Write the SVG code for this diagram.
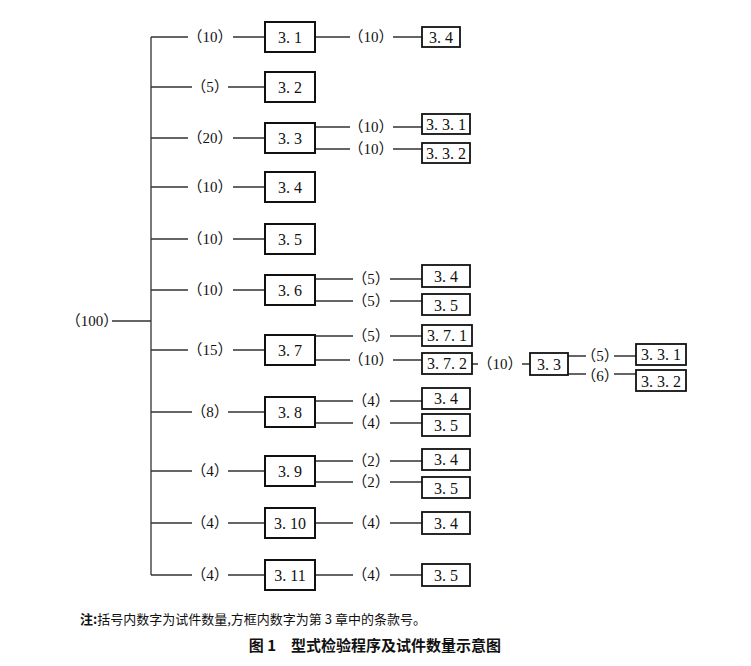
<svg xmlns="http://www.w3.org/2000/svg" width="751" height="666" viewBox="0 0 751 666">
<style>
.l{stroke:#333;stroke-width:1.3;fill:none}
.b{stroke:#111;stroke-width:2;fill:#fff}
.s{stroke:#111;stroke-width:1.8;fill:#fff}
text{font-family:"Liberation Serif","Noto Sans CJK SC",serif;font-size:16px;fill:#111;text-anchor:middle;dominant-baseline:central}
#labels text{font-family:"Liberation Serif","Noto Sans CJK SC",serif;font-size:15px}
.n{font-family:"Noto Sans CJK SC",sans-serif;font-size:13px;text-anchor:start}
.t{font-family:"Noto Sans CJK SC",sans-serif;font-size:15px;font-weight:bold}
</style>
<rect width="751" height="666" fill="#fff"/>
<g id="connectors">
<path class="l" d="M151 37V575M112 321H151"/>
<path class="l" d="M151 37H188M233 37H265M315 37H350M393 37H422"/>
<path class="l" d="M151 87H192M228 87H265"/>
<path class="l" d="M151 138H188M233 138H265M315 127H350M393 127H422M315 149H350M393 149H422"/>
<path class="l" d="M151 187H188M233 187H265"/>
<path class="l" d="M151 239H188M233 239H265"/>
<path class="l" d="M151 290H188M233 290H265M315 279H353M390 279H422M315 301H353M390 301H422"/>
<path class="l" d="M151 350H188M233 350H265M315 336H353M390 336H422M315 360H350M393 360H422"/>
<path class="l" d="M472 364H478M522 364H530M568 356H586M614 356H636M568 374H586M614 374H636"/>
<path class="l" d="M151 412H192M228 412H265M315 401H353M390 401H422M315 423H353M390 423H422"/>
<path class="l" d="M151 471H192M228 471H265M315 461H353M390 461H422M315 482H353M390 482H422"/>
<path class="l" d="M151 523H192M228 523H265M315 523H353M390 523H422"/>
<path class="l" d="M151 575H192M228 575H265M315 575H353M390 575H422"/>
</g>
<g id="labels">
<text x="92" y="321">（100）</text>
<text x="210" y="37">（10）</text><text x="371" y="37">（10）</text>
<text x="210" y="87">（5）</text>
<text x="210" y="138">（20）</text><text x="371" y="127">（10）</text><text x="371" y="149">（10）</text>
<text x="210" y="187">（10）</text>
<text x="210" y="239">（10）</text>
<text x="210" y="290">（10）</text><text x="371" y="279">（5）</text><text x="371" y="301">（5）</text>
<text x="210" y="350">（15）</text><text x="371" y="336">（5）</text><text x="371" y="360">（10）</text>
<text x="500" y="364">（10）</text><text x="600" y="356">（5）</text><text x="600" y="376">（6）</text>
<text x="210" y="412">（8）</text><text x="371" y="401">（4）</text><text x="371" y="423">（4）</text>
<text x="210" y="471">（4）</text><text x="371" y="461">（2）</text><text x="371" y="482">（2）</text>
<text x="210" y="523">（4）</text><text x="371" y="523">（4）</text>
<text x="210" y="575">（4）</text><text x="371" y="575">（4）</text>
</g>
<g id="n31"><rect class="b" x="265" y="22" width="50" height="30"/><text x="290" y="37">3. 1</text></g>
<g id="n31a"><rect class="s" x="422" y="27" width="38" height="20"/><text x="441" y="37">3. 4</text></g>
<g id="n32"><rect class="b" x="265" y="72" width="50" height="30"/><text x="290" y="87">3. 2</text></g>
<g id="n33"><rect class="b" x="265" y="123" width="50" height="30"/><text x="290" y="138">3. 3</text></g>
<g id="n331"><rect class="s" x="422" y="114" width="48" height="20"/><text x="446" y="124">3. 3. 1</text></g>
<g id="n332"><rect class="s" x="422" y="143" width="48" height="20"/><text x="446" y="153">3. 3. 2</text></g>
<g id="n34"><rect class="b" x="265" y="172" width="50" height="30"/><text x="290" y="187">3. 4</text></g>
<g id="n35"><rect class="b" x="265" y="224" width="50" height="30"/><text x="290" y="239">3. 5</text></g>
<g id="n36"><rect class="b" x="265" y="275" width="50" height="30"/><text x="290" y="290">3. 6</text></g>
<g id="n36a"><rect class="s" x="422" y="265" width="48" height="22"/><text x="446" y="276">3. 4</text></g>
<g id="n36b"><rect class="s" x="422" y="294" width="48" height="21"/><text x="446" y="305">3. 5</text></g>
<g id="n37"><rect class="b" x="265" y="335" width="50" height="30"/><text x="290" y="350">3. 7</text></g>
<g id="n371"><rect class="s" x="422" y="325" width="50" height="21"/><text x="447" y="335">3. 7. 1</text></g>
<g id="n372"><rect class="s" x="422" y="353" width="50" height="21"/><text x="447" y="363">3. 7. 2</text></g>
<g id="n373"><rect class="s" x="530" y="353" width="38" height="22"/><text x="549" y="364">3. 3</text></g>
<g id="n3731"><rect class="s" x="636" y="344" width="50" height="21"/><text x="661" y="354">3. 3. 1</text></g>
<g id="n3732"><rect class="s" x="636" y="370" width="50" height="21"/><text x="661" y="381">3. 3. 2</text></g>
<g id="n38"><rect class="b" x="265" y="397" width="50" height="30"/><text x="290" y="412">3. 8</text></g>
<g id="n38a"><rect class="s" x="422" y="388" width="48" height="21"/><text x="446" y="398">3. 4</text></g>
<g id="n38b"><rect class="s" x="422" y="414" width="48" height="22"/><text x="446" y="425">3. 5</text></g>
<g id="n39"><rect class="b" x="265" y="456" width="50" height="30"/><text x="290" y="471">3. 9</text></g>
<g id="n39a"><rect class="s" x="422" y="449" width="48" height="21"/><text x="446" y="459">3. 4</text></g>
<g id="n39b"><rect class="s" x="422" y="477" width="48" height="21"/><text x="446" y="488">3. 5</text></g>
<g id="n310"><rect class="b" x="265" y="508" width="50" height="30"/><text x="290" y="523">3. 10</text></g>
<g id="n310a"><rect class="s" x="422" y="512" width="48" height="22"/><text x="446" y="523">3. 4</text></g>
<g id="n311"><rect class="b" x="265" y="560" width="50" height="30"/><text x="290" y="575">3. 11</text></g>
<g id="n311a"><rect class="s" x="422" y="564" width="48" height="22"/><text x="446" y="575">3. 5</text></g>
<text class="n" x="80" y="618"><tspan font-weight="bold">注:</tspan>括号内数字为试件数量,方框内数字为第 3 章中的条款号。</text>
<text class="t" x="375" y="644">图 1　型式检验程序及试件数量示意图</text>
</svg>
